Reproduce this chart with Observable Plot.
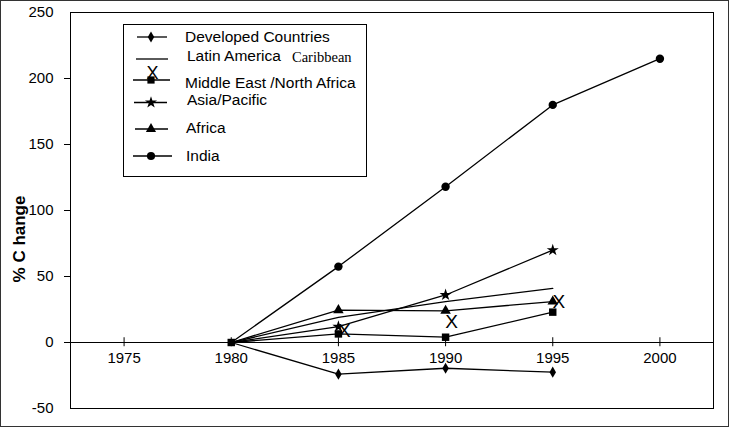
<!DOCTYPE html>
<html>
<head>
<meta charset="utf-8">
<script src="https://cdn.jsdelivr.net/npm/d3@7"></script>
<script src="https://cdn.jsdelivr.net/npm/@observablehq/plot@0.6"></script>
<style>
  html, body { margin: 0; padding: 0; background: #fff; }
  #wrap { position: relative; width: 729px; height: 427px; }
  #border { position: absolute; left: 0; top: 0; width: 729px; height: 427px; box-sizing: border-box; border: 1px solid #333; pointer-events: none; }
</style>
</head>
<body>
<div id="wrap"><div id="border"></div></div>
<script>
// ---- data ----
const years = [1980, 1985, 1990, 1995, 2000];
const seriesNames = ["Developed Countries", "Latin America Caribbean", "Middle East /North Africa", "Asia/Pacific", "Africa", "India"];
const developed = [0, -24, -19.5, -22.5];
const latinAmerica = [0, 19, 31, 41];
const middleEast = [0, 6.5, 4, 23];
const asiaPacific = [0, 12, 36, 70];
const africa = [0, 24.5, 24, 31];
const india = [0, 57.5, 118, 180, 215];
// "X" marks drawn near the Latin America points
const xMarkYears = [1985, 1990, 1995];
const xMarkValues = [9, 15.5, 30.5];
const xTickYears = [1975, 1980, 1985, 1990, 1995, 2000];
const yTickLabels = [250, 200, 150, 100, 50, 0, -50];
const yTickMarks = [200, 150, 100, 50, 0];

const seriesValues = [developed, latinAmerica, middleEast, asiaPacific, africa, india];
const symbols = ["diamond", null, "square", "star", "triangle", "circle"];
const symbolR = [3.4, 0, 4.2, 3.8, 3.9, 4.2];

const rows = [];
seriesNames.forEach((s, i) => seriesValues[i].forEach((v, j) => rows.push({series: s, year: years[j], value: v})));
const xMarks = xMarkYears.map((y, i) => ({year: y, value: xMarkValues[i]}));

const font = "'Liberation Sans', Arial, sans-serif";

const marks = [
  Plot.frame({stroke: "#000", strokeWidth: 1}),
  Plot.axisY(yTickLabels, {tickSize: 0, tickPadding: 17, label: null, fontSize: 15, fill: "#000", tickFormat: d => String(d)}),
  Plot.axisY(yTickMarks, {tickSize: 6, tickFormat: () => "", label: null, stroke: "#000"}),
  Plot.ruleY([0], {stroke: "#000", insetLeft: -6}),
  Plot.ruleX(xTickYears, {x: d => d, y1: -3.2, y2: 3.6, stroke: "#000"}),
  Plot.text(xTickYears, {x: d => d, y: 0, dy: 16, text: d => String(d), fontSize: 15, fill: "#000"}),
  Plot.line(rows, {x: "year", y: "value", z: "series", stroke: "#000", strokeWidth: 1.3})
];
seriesNames.forEach((s, i) => {
  if (!symbols[i]) return;
  marks.push(Plot.dot(rows.filter(d => d.series === s && (d.year > 1980 || symbols[i] === "square")),
    {x: "year", y: "value", symbol: () => symbols[i], r: symbolR[i], fill: "#000", stroke: "none"}));
});
marks.push(Plot.text(xMarks, {x: "year", y: "value", text: () => "X", dx: 6, fontSize: 19, fill: "#000"}));

const chart = Plot.plot({
  width: 729,
  height: 427,
  marginLeft: 70,
  marginRight: 16,
  marginTop: 12,
  marginBottom: 19,
  x: {domain: [1972.5, 2002.5], axis: null},
  y: {domain: [-50, 250], label: null},
  style: {fontFamily: font, fontSize: "15px", color: "#000", background: "#fff"},
  marks
});
document.getElementById("wrap").prepend(chart);

// ---- axis title & legend ----
const svg = d3.select(chart);
svg.append("text")
  .attr("transform", "translate(25,239) rotate(-90)")
  .attr("text-anchor", "middle")
  .style("font-family", font)
  .style("font-size", "17px")
  .style("font-weight", "bold")
  .attr("fill", "#000")
  .text("% C hange");

const lg = svg.append("g").attr("text-anchor", "start");
lg.append("rect").attr("x", 123.5).attr("y", 24.5).attr("width", 243).attr("height", 152)
  .attr("fill", "#fff").attr("stroke", "#000");
const legendRows = [
  {name: "Developed Countries", sym: d3.symbolDiamond, size: 36, ly: 37, x1: 137, x2: 167, ty: 37, tx: 185},
  {name: "Latin America", sym: null, ly: 59, x1: 136, x2: 168, ty: 56, tx: 187},
  {name: "Middle East /North Africa", sym: d3.symbolSquare, size: 52, ly: 80, x1: 133, x2: 170, ty: 83, tx: 185},
  {name: "Asia/Pacific", sym: d3.symbolStar, size: 45, ly: 102.5, x1: 134, x2: 167, ty: 100, tx: 187},
  {name: "Africa", sym: d3.symbolTriangle, size: 45, ly: 129, x1: 135, x2: 168, ty: 128, tx: 186},
  {name: "India", sym: d3.symbolCircle, size: 52, ly: 156, x1: 133, x2: 172, ty: 156, tx: 186}
];
legendRows.forEach(r => {
  lg.append("line").attr("x1", r.x1).attr("x2", r.x2).attr("y1", r.ly).attr("y2", r.ly)
    .attr("stroke", "#000").attr("stroke-width", 1.3);
  if (r.sym) lg.append("path").attr("d", d3.symbol(r.sym, r.size)()).attr("transform", `translate(151,${r.ly})`).attr("fill", "#000");
  lg.append("text").attr("x", r.tx).attr("y", r.ty).attr("dy", "0.35em").attr("text-anchor", "start")
    .style("font-family", font).style("font-size", "15.5px").attr("fill", "#000").text(r.name);
});
lg.append("text").attr("x", 292).attr("y", 57).attr("dy", "0.35em").attr("text-anchor", "start")
  .style("font-family", "'Liberation Serif', 'Times New Roman', serif").style("font-size", "14.5px").attr("fill", "#000").text("Caribbean");
lg.append("text").attr("x", 152.5).attr("y", 73).attr("dy", "0.35em").attr("text-anchor", "middle")
  .style("font-family", font).style("font-size", "18px").attr("fill", "#000").text("X");
</script>
</body>
</html>
